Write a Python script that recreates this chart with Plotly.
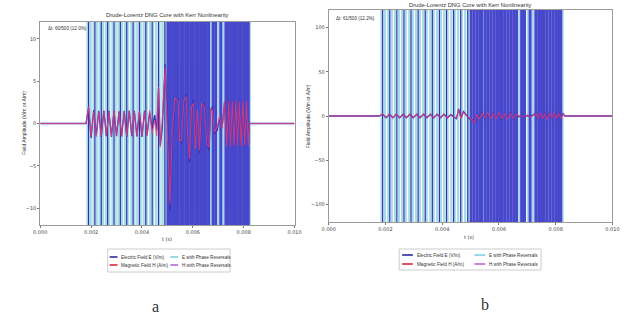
import plotly.graph_objects as go

# ---------------- data (time in ms) ----------------
t_a_ms = [0.0, 1.80, 1.90, 2.00, 2.10, 2.20, 2.30, 2.40, 2.50, 2.60, 2.70, 2.80, 2.90, 3.00, 3.10,
          3.20, 3.30, 3.40, 3.50, 3.60, 3.70, 3.80, 3.90, 4.00, 4.10, 4.20, 4.30, 4.40,
          4.50, 4.58, 4.65, 4.72, 4.80, 4.91, 5.00, 5.10, 5.19, 5.30,
          5.42, 5.48, 5.55, 5.65, 5.74, 5.80, 5.87, 5.95, 6.02, 6.10,
          6.18, 6.26, 6.35, 6.45, 6.55, 6.64, 6.70, 6.77, 6.85, 6.96,
          7.05, 7.15, 7.25, 7.33, 7.41, 7.48, 7.55, 7.62, 7.69, 7.76,
          7.83, 7.90, 7.97, 8.04, 8.11, 8.18, 8.22, 10.0]
E_a = [0, 0,
       1.9, -1.7, 1.6, -1.4, 1.5, -1.6, 1.5, -1.5, 1.5, -1.6,
       1.5, -1.5, 1.4, -1.5, 1.5, -1.6, 1.5, -1.5, 1.5, -1.5,
       1.4, -1.6, 1.5, -1.4, 1.3, -0.6,
       1.0, -0.8, 4.2, -2.6, -0.5, 7.0, 0.8, -10.3, -2.0, 2.5,
       3.0, -1.5, -2.4, 2.0, 3.5, -2.0, -4.6, 1.5, 2.8, -2.5,
       1.0, -3.5, 2.0, 2.4, -2.0, -3.2, 1.5, 2.0, -1.2, -0.8,
       0.6, -0.5, 2.6, -2.6, 2.7, -2.7, 2.7, -2.7, 2.7, -2.7,
       2.7, -2.7, 2.7, -2.7, 2.7, -2.7, 0.0, 0.0]
H_a = [0, 0,
       2.0, -1.5, 1.4, -1.6, 1.4, -1.5, 1.6, -1.4, 1.4, -1.5,
       1.6, -1.4, 1.5, -1.6, 1.4, -1.5, 1.6, -1.4, 1.4, -1.6,
       1.5, -1.5, 1.4, -1.5, 1.6, -1.2,
       0.4, -1.5, 4.3, -2.8, 0.5, 6.6, -1.0, -9.5, -1.0, 3.0,
       2.6, -2.0, -2.0, 2.6, 3.2, -1.6, -4.2, 2.0, 2.4, -3.0,
       1.6, -3.2, 2.4, 2.0, -2.4, -2.8, 1.8, 1.6, -1.0, -0.4,
       0.8, -0.6, 2.7, -2.7, 2.6, -2.7, 2.7, -2.6, 2.7, -2.7,
       2.6, -2.7, 2.7, -2.6, 2.7, -2.7, 0.0, 0.0]

t_b_ms = [0.0, 1.78, 1.90, 2.02, 2.14, 2.26, 2.38, 2.50, 2.62, 2.74, 2.86, 2.98, 3.10, 3.22,
          3.34, 3.46, 3.58, 3.70, 3.82, 3.94, 4.06, 4.18, 4.30,
          4.40, 4.50, 4.58, 4.66, 4.75, 4.85, 4.95, 5.05, 5.14, 5.22,
          5.30, 5.40, 5.50, 5.60, 5.70, 5.80, 5.90, 6.00, 6.10, 6.20,
          6.30, 6.40, 6.50, 6.60, 6.70, 6.80, 6.90, 7.00, 7.10, 7.20,
          7.30, 7.38, 7.46, 7.54, 7.62, 7.70, 7.78, 7.86, 7.94, 8.02,
          8.10, 8.18, 8.26, 8.32, 10.0]
E_b = [0, 0, 2.0, -2.0, 2.0, -2.0, 2.0, -2.0, 2.0, -2.0, 2.0, -2.0,
       2.0, -2.0, 2.0, -2.0, 2.0, -2.0, 2.0, -2.0, 2.0, -2.0, 1.5,
       -1.0, -3.0, 8.0, -2.0, 5.0, 0.5, -3.0, -4.0, -8.0, 3.0,
       -2.0, 4.0, -3.0, 3.5, -3.5, 4.0, -2.5, 3.0, -4.0, 3.5,
       -3.0, 4.0, -3.5, 3.0, -1.0, 1.0, -1.0, 0.5, -0.5, 1.0,
       3.5, -3.5, 3.5, -3.5, 3.5, -3.5, 3.5, -3.5, 3.5, -3.5,
       3.5, -3.5, 3.0, 0.0, 0.0]
H_b = [0, 0, 2.4, -1.6, 1.8, -2.2, 2.2, -1.8, 1.8, -2.2, 2.2, -1.8,
       1.8, -2.2, 2.2, -1.8, 1.8, -2.2, 2.2, -1.8, 1.8, -2.2, 1.0,
       -1.5, -2.0, 7.0, -3.0, 4.0, 1.0, -2.0, -5.0, -7.0, 2.0,
       -3.0, 3.0, -2.0, 4.0, -3.0, 3.0, -3.0, 4.0, -3.0, 3.0,
       -4.0, 3.0, -3.0, 2.5, -0.5, 0.5, -0.5, 1.0, -1.0, 0.5,
       3.0, -3.0, 4.0, -3.0, 3.0, -4.0, 3.0, -3.0, 4.0, -3.0,
       3.0, -3.0, 2.5, 0.0, 0.0]

# phase reversal times (ms)
rev_e_ms = [1.86, 1.98, 2.10, 2.22, 2.34, 2.47, 2.59, 2.71, 2.84, 2.96, 3.08, 3.21, 3.33, 3.45,
            3.58, 3.70, 3.82, 3.95, 4.07, 4.19, 4.32, 4.44, 4.56, 4.69, 4.81, 4.93,
            5.45, 6.72, 7.02, 7.20, 8.24]
rev_h_ms = [1.90, 2.15, 2.40, 2.65, 2.90, 3.15, 3.40, 3.65, 3.90, 4.15, 4.40, 4.65, 4.90]
rev_h_dense_ms = [5.02, 5.12, 5.22, 5.32, 5.40, 5.52, 5.62, 5.72, 5.82, 5.92, 6.02, 6.12,
                  6.22, 6.32, 6.42, 6.52, 6.62, 6.80, 6.90, 7.10, 7.30, 7.40, 7.50, 7.60,
                  7.70, 7.80, 7.90, 8.00, 8.10, 8.18]

x_ticks = [0.000, 0.002, 0.004, 0.006, 0.008, 0.010]
x_ticktext = ["0.000", "0.002", "0.004", "0.006", "0.008", "0.010"]
y_ticks_a = [-10, -5, 0, 5, 10]
y_ticks_b = [-100, -50, 0, 50, 100]

title_text = "Drude-Lorentz DNG Core with Kerr Nonlinearity"
legend_names = ["Electric Field E (V/m)", "Magnetic Field H (A/m)",
                "E with Phase Reversals", "H with Phase Reversals"]

# ---------------- styling ----------------
C_E = "#3f30b4"
C_H = "#e6407e"
C_E_LEG = "#2a2aa0"
C_H_LEG = "#d6283a"
C_CYAN = "#a4dbea"
C_CYAN_LEG = "#7fd0e2"
C_BLUE = "#4848cc"
C_BLUE_THIN = "#3434a4"
C_HREV = "#b866d8"
FONT = "DejaVu Sans"
FONT_N = "Liberation Sans"
W, H = 638, 320

def s(ms):
    return [v / 1000.0 for v in ms]

fig = go.Figure()

for tt, e, h, xa, ya in [(t_a_ms, E_a, H_a, "x", "y"), (t_b_ms, E_b, H_b, "x2", "y2")]:
    fig.add_trace(go.Scatter(x=s(tt), y=e, mode="lines", line=dict(color=C_E, width=1.3),
                             xaxis=xa, yaxis=ya, showlegend=False, name=legend_names[0]))
    fig.add_trace(go.Scatter(x=s(tt), y=h, mode="lines", line=dict(color=C_H, width=1.1),
                             opacity=0.8, xaxis=xa, yaxis=ya, showlegend=False, name=legend_names[1]))

shapes = []
for xr, yr in [("x", "y domain"), ("x2", "y2 domain")]:
    for t in s(rev_e_ms):
        shapes.append(dict(type="line", xref=xr, yref=yr, x0=t, x1=t, y0=0, y1=1,
                           line=dict(color=C_CYAN, width=2.3), layer="below"))
    for t in s(rev_h_ms):
        shapes.append(dict(type="line", xref=xr, yref=yr, x0=t, x1=t, y0=0, y1=1,
                           line=dict(color=C_BLUE_THIN, width=1.2), layer="below"))
    for t in s(rev_h_dense_ms):
        shapes.append(dict(type="line", xref=xr, yref=yr, x0=t, x1=t, y0=0, y1=1,
                           line=dict(color=C_BLUE, width=3), layer="below"))

def px(x):
    return x / W

def py(y):
    return 1 - y / H

annotations = []

def add_legend(box, rows, cols_sym, cols_txt):
    x0, y0, x1, y1 = box
    shapes.append(dict(type="rect", xref="paper", yref="paper", x0=px(x0), x1=px(x1),
                       y0=py(y1), y1=py(y0), line=dict(color="#cccccc", width=1),
                       fillcolor="white", layer="above"))
    items = [(0, 0, C_E_LEG), (1, 0, C_H_LEG), (0, 1, C_CYAN_LEG), (1, 1, C_HREV)]
    for (r, c, col), name in zip(items, legend_names):
        sx0, sx1 = cols_sym[c]
        shapes.append(dict(type="line", xref="paper", yref="paper", x0=px(sx0), x1=px(sx1),
                           y0=py(rows[r]), y1=py(rows[r]), line=dict(color=col, width=1.6),
                           layer="above"))
        annotations.append(dict(text=name, xref="paper", yref="paper", x=px(cols_txt[c]),
                                y=py(rows[r]), xanchor="left", yanchor="middle", showarrow=False,
                                font=dict(size=4.6, color="#333", family=FONT_N)))

add_legend((103, 249, 228, 272), [257, 265], [(105, 113), (167, 175)], [115, 177])
add_legend((401, 249, 546, 270), [255, 264], [(404, 415), (478, 489)], [417, 491])

def text(t, x, y, size, family=FONT, **kw):
    d = dict(text=t, xref="paper", yref="paper", x=px(x), y=py(y), showarrow=False,
             xanchor="center", yanchor="middle",
             font=dict(size=size, color="#333", family=family))
    d.update(kw)
    annotations.append(d)

text(title_text, 164, 15, 5.8, family=FONT_N)
text(title_text, 474, 5, 5.8, family=FONT_N)
text("t (s)", 164, 239, 5)
text("t (s)", 472, 237, 5)
text("Field Amplitude (V/m or A/m)", 17, 123, 5, family=FONT_N, textangle=-90)
text("Field Amplitude (V/m or A/m)", 308, 116, 5, family=FONT_N, textangle=-90)
text("Δt: 60/500 (12.0%)", 40, 29, 4.6, family=FONT_N, xanchor="left")
text("Δt: 61/500 (12.2%)", 334, 19, 4.6, family=FONT_N, xanchor="left")
text("a", 152, 306, 16, family="Liberation Serif")
text("b", 489, 304, 16, family="Liberation Serif")

axis_common = dict(showgrid=False, zeroline=False, showline=True, mirror=True,
                   linecolor="#9a9a9a", linewidth=1, ticks="outside", ticklen=2,
                   tickcolor="#777", tickfont=dict(size=5, color="#444", family=FONT))

fig.update_layout(
    width=W, height=H, margin=dict(l=0, r=0, t=0, b=0),
    paper_bgcolor="white", plot_bgcolor="white", showlegend=False,
    xaxis=dict(domain=[px(34), px(294)], range=[0, 0.010], tickvals=x_ticks,
               ticktext=x_ticktext, anchor="y", **axis_common),
    yaxis=dict(domain=[py(225), py(22)], range=[-12, 12], tickvals=y_ticks_a,
               anchor="x", **axis_common),
    xaxis2=dict(domain=[px(329), px(619)], range=[0, 0.010], tickvals=x_ticks,
                ticktext=x_ticktext, anchor="y2", **axis_common),
    yaxis2=dict(domain=[py(222), py(10)], range=[-120, 120], tickvals=y_ticks_b,
                anchor="x2", **axis_common),
    shapes=shapes, annotations=annotations,
)

fig.write_html("out.html")
